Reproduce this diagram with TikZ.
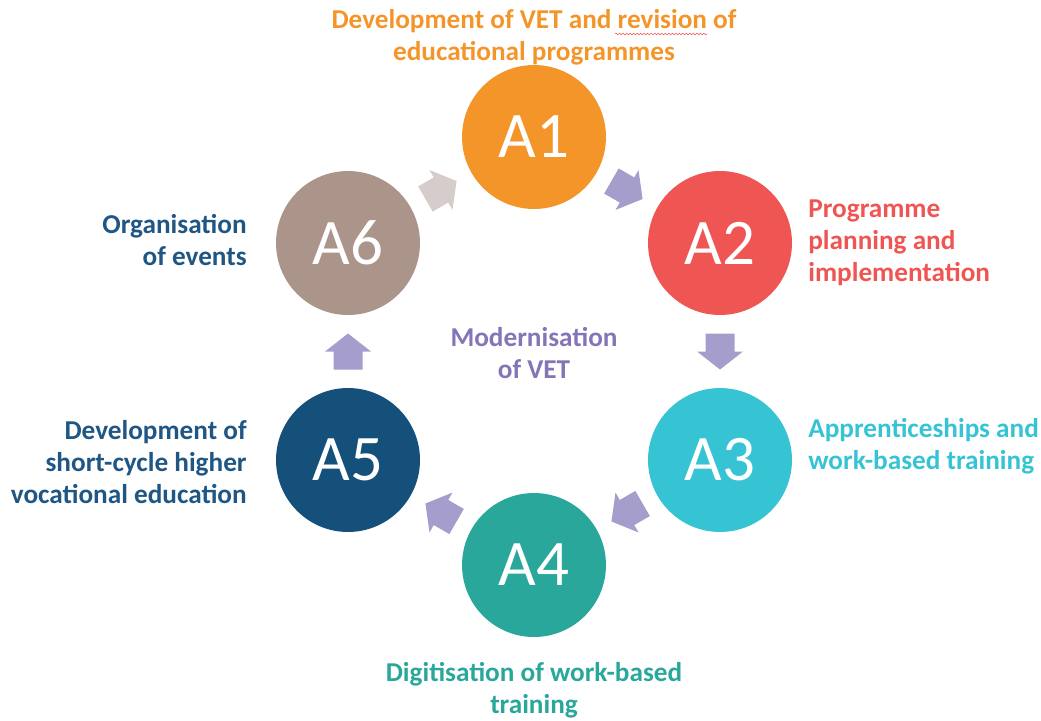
\documentclass[tikz,border=0pt]{standalone}
\usepackage{fontspec}
\setmainfont{Carlito}
\usetikzlibrary{calc,decorations.pathmorphing}

\definecolor{aorange}{HTML}{F4952A}
\definecolor{ared}{HTML}{EF5552}
\definecolor{acyan}{HTML}{36C3D4}
\definecolor{ateal}{HTML}{2AA79B}
\definecolor{anavy}{HTML}{15507A}
\definecolor{ataupe}{HTML}{AB9489}
\definecolor{atext}{HTML}{1F5684}
\definecolor{amid}{HTML}{8575B7}
\definecolor{alilac}{HTML}{A59DCC}
\definecolor{agrey}{HTML}{D6CCCB}

\tikzset{
	act/.style={circle, fill=#1, minimum size=2.88cm, inner sep=0pt, text=white,
		font=\fontsize{37}{40}\selectfont},
	lbl/.style={text=#1, inner sep=0pt, font=\bfseries\fontsize{15.5}{18.2}\selectfont},
	pics/flowarrow/.style={code={
		\fill[#1] (-18,-14.5) -- (0,-14.5) -- (0,-23) -- (18,0) -- (0,23) -- (0,14.5) -- (-18,14.5) -- cycle;
	}}
}

\begin{document}
\begin{tikzpicture}[x=0.02cm, y=-0.02cm]
	%%%%% START %%%%%
	\useasboundingbox (0,0) rectangle (1041,720);
	
	% the six activities
	\node[act=aorange] (a1) at (534,137) {A1};
	\node[act=ared]    (a2) at (720,243) {A2};
	\node[act=acyan]   (a3) at (720,460) {A3};
	\node[act=ateal]   (a4) at (534,565) {A4};
	\node[act=anavy]   (a5) at (348,460) {A5};
	\node[act=ataupe]  (a6) at (348,243) {A6};
	
	% arrows round the cycle
	\pic[rotate=-30]  at ($(a1)!0.5!(a2)$) {flowarrow=alilac};
	\pic[rotate=-90]  at ($(a2)!0.5!(a3)$) {flowarrow=alilac};
	\pic[rotate=-150] at ($(a3)!0.5!(a4)$) {flowarrow=alilac};
	\pic[rotate=150]  at ($(a4)!0.5!(a5)$) {flowarrow=alilac};
	\pic[rotate=90]   at ($(a5)!0.5!(a6)$) {flowarrow=alilac};
	\pic[rotate=30]   at ($(a6)!0.5!(a1)$) {flowarrow=agrey};
	
	% captions
	\node[lbl=aorange, align=center] (t1) at (534,37) {Development of VET and revision of\\educational programmes};
	\node[lbl=ared, align=left, anchor=west] (t2) at (808,243) {Programme\\planning and\\implementation};
	\node[lbl=acyan, align=left, anchor=west] (t3) at (808,446) {Apprenticeships and\\work-based training};
	\node[lbl=ateal, align=center] (t4) at (534,690) {Digitisation of work-based\\training};
	\node[lbl=atext, align=right, anchor=east] (t5) at (247,462) {Development of\\short-cycle higher\\vocational education};
	\node[lbl=atext, align=right, anchor=east] (t6) at (247,240) {Organisation\\of events};
	\node[lbl=amid, align=center] (mid) at (534,353) {Modernisation\\of VET};
	
	% spelling squiggle under "revision"
	\draw[ared, line width=0.3pt, decorate, decoration={snake, amplitude=0.5pt, segment length=2pt}] (615,34) -- (707,34);
	%%%%% END %%%%%
\end{tikzpicture}
\end{document}
